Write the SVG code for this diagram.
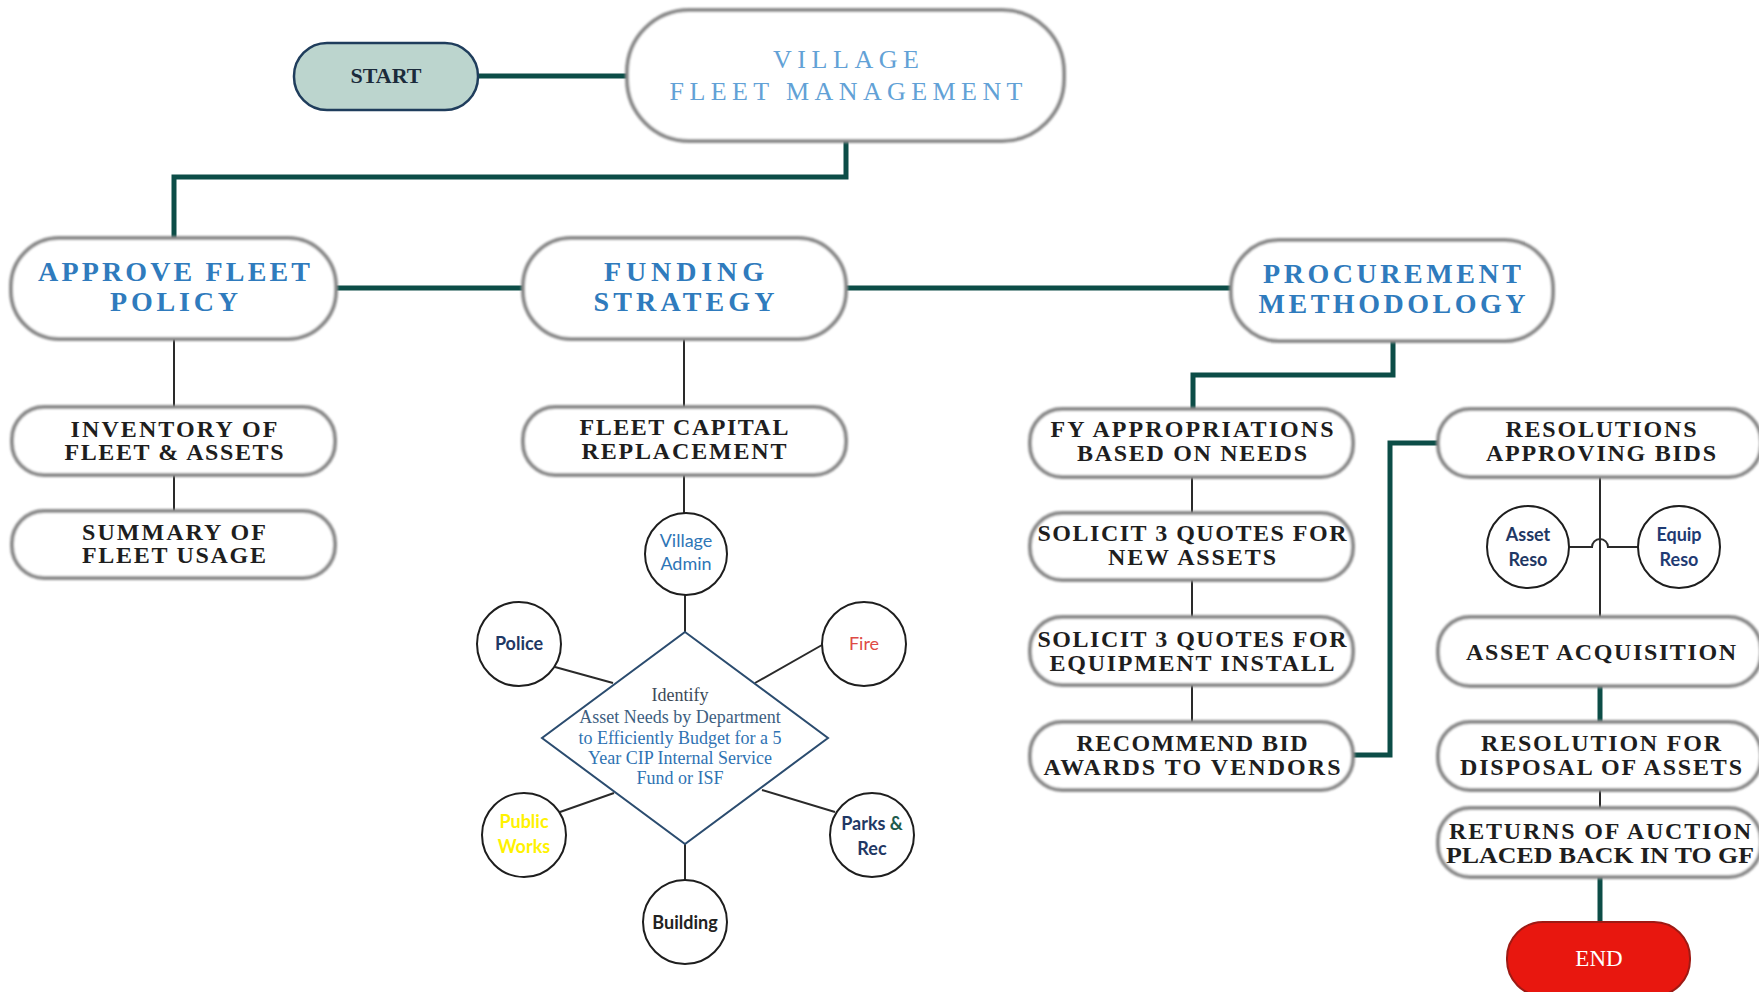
<svg xmlns="http://www.w3.org/2000/svg" width="1759" height="992" viewBox="0 0 1759 992">
<style>
.pill{fill:#fff;stroke:#8a8a8a;stroke-width:4;filter:url(#soft)}
.hd{font-family:"Liberation Serif",serif;font-weight:bold;font-size:28px;fill:#2f7bbd;text-anchor:middle}
.ttl{font-family:"Liberation Serif",serif;font-size:26px;fill:#62a1d6;text-anchor:middle}
.bx{font-family:"Liberation Serif",serif;font-weight:bold;font-size:24px;fill:#1e1e1e;text-anchor:middle}
.thick{fill:none;stroke:#0c4d47;stroke-width:5}
.thin{fill:none;stroke:#2a2a2a;stroke-width:2}
.circ{fill:#fff;stroke:#1e1e1e;stroke-width:2}
.ct{font-family:Lato,"Open Sans",sans-serif;font-size:18px;text-anchor:middle}
.dt{font-family:"Liberation Serif",serif;font-size:18px;text-anchor:middle;fill:#2f73b3}
</style>
<defs>
<filter id="soft" x="-5%" y="-10%" width="110%" height="120%"><feGaussianBlur stdDeviation="1.1"/></filter>
</defs>
<rect width="1759" height="992" fill="#fff"/>
<g id="connectors">
<path class="thick" d="M478,76 H627"/>
<path class="thick" d="M846,141 V177 H174 V238"/>
<path class="thick" d="M336,288 H523"/>
<path class="thick" d="M846,288 H1231"/>
<path class="thick" d="M1393,341 V375 H1193 V409"/>
<path class="thick" d="M1353,755 H1390 V443 H1438"/>
<path class="thick" d="M1600,686 V722"/>
<path class="thick" d="M1600,877 V922"/>
<path class="thin" d="M174,339 V407 M174,475 V511"/>
<path class="thin" d="M684,339 V407 M684,475 V513"/>
<path class="thin" d="M685,595 V632 M685,844 V880"/>
<path class="thin" d="M555,667 L613,683 M822,645 L755,683 M560,812 L614,793 M835,812 L762,790"/>
<path class="thin" d="M1192,477 V513 M1192,580 V617 M1192,685 V722"/>
<path class="thin" d="M1600,477 V617 M1600,790 V808"/>
<path class="thin" d="M1569,547 H1592 A8,8 0 0 1 1608,547 H1638"/>
</g>
<g id="start">
<rect x="294" y="43" width="184" height="67" rx="33" fill="#bcd5ce" stroke="#1f3d5c" stroke-width="2.5"/>
<text x="386" y="83" font-family="Liberation Serif,serif" font-weight="bold" font-size="22" fill="#1b2b3b" text-anchor="middle" textLength="71" lengthAdjust="spacingAndGlyphs">START</text>
</g>
<g id="village">
<rect class="pill" x="627" y="10" width="437" height="131" rx="62"/>
<text class="ttl" x="846" y="68" textLength="146" lengthAdjust="spacing">VILLAGE</text>
<text class="ttl" x="846" y="100" textLength="353" lengthAdjust="spacing">FLEET MANAGEMENT</text>
</g>
<g id="approve">
<rect class="pill" x="11" y="238" width="325" height="101" rx="48"/>
<text class="hd" x="174" y="281" textLength="272" lengthAdjust="spacing">APPROVE FLEET</text>
<text class="hd" x="174" y="311" textLength="128" lengthAdjust="spacing">POLICY</text>
</g>
<g id="funding">
<rect class="pill" x="523" y="238" width="323" height="101" rx="48"/>
<text class="hd" x="684" y="281" textLength="160" lengthAdjust="spacing">FUNDING</text>
<text class="hd" x="684" y="311" textLength="181" lengthAdjust="spacing">STRATEGY</text>
</g>
<g id="procurement">
<rect class="pill" x="1231" y="240" width="322" height="101" rx="48"/>
<text class="hd" x="1392" y="283" textLength="258" lengthAdjust="spacing">PROCUREMENT</text>
<text class="hd" x="1392" y="313" textLength="267" lengthAdjust="spacing">METHODOLOGY</text>
</g>
<g id="inventory">
<rect class="pill" x="12" y="407" width="323" height="68" rx="32"/>
<text class="bx" x="174" y="437" textLength="207" lengthAdjust="spacing">INVENTORY OF</text>
<text class="bx" x="174" y="460" textLength="219" lengthAdjust="spacing">FLEET &amp; ASSETS</text>
</g>
<g id="summary">
<rect class="pill" x="12" y="511" width="323" height="67" rx="32"/>
<text class="bx" x="174" y="540" textLength="184" lengthAdjust="spacing">SUMMARY OF</text>
<text class="bx" x="174" y="563" textLength="184" lengthAdjust="spacing">FLEET USAGE</text>
</g>
<g id="fleet-capital">
<rect class="pill" x="523" y="407" width="323" height="68" rx="32"/>
<text class="bx" x="684" y="435" textLength="209" lengthAdjust="spacing">FLEET CAPITAL</text>
<text class="bx" x="684" y="459" textLength="205" lengthAdjust="spacing">REPLACEMENT</text>
</g>
<g id="identify">
<polygon points="685,632 828,738 685,844 542,738" fill="#fff" stroke="#2b4c6f" stroke-width="2"/>
<text class="dt" x="680" y="701" style="fill:#3c4a58">Identify</text>
<text class="dt" x="680" y="723" style="fill:#3d5e80">Asset Needs by Department</text>
<text class="dt" x="680" y="744">to Efficiently Budget for a 5</text>
<text class="dt" x="680" y="764">Year CIP Internal Service</text>
<text class="dt" x="680" y="784">Fund or ISF</text>
</g>
<g id="village-admin">
<circle class="circ" cx="686" cy="554" r="41"/>
<text class="ct" x="686" y="547" fill="#2e75b6">Village</text>
<text class="ct" x="686" y="570" fill="#2e75b6">Admin</text>
</g>
<g id="police">
<circle class="circ" cx="519" cy="644" r="42"/>
<text class="ct" x="519" y="650" font-weight="bold" fill="#1f3864">Police</text>
</g>
<g id="fire">
<circle class="circ" cx="864" cy="644" r="42"/>
<text class="ct" x="864" y="650" fill="#de4b45">Fire</text>
</g>
<g id="public-works">
<circle class="circ" cx="524" cy="835" r="42"/>
<text class="ct" x="524" y="828" font-weight="bold" fill="#fff200">Public</text>
<text class="ct" x="524" y="853" font-weight="bold" fill="#fff200">Works</text>
</g>
<g id="parks-rec">
<circle class="circ" cx="872" cy="835" r="42"/>
<text class="ct" x="872" y="830" font-weight="bold" fill="#1f3864">Parks <tspan fill="#1e5b4c">&amp;</tspan></text>
<text class="ct" x="872" y="855" font-weight="bold" fill="#1f3864">Rec</text>
</g>
<g id="building">
<circle class="circ" cx="685" cy="922" r="42"/>
<text class="ct" x="685" y="929" font-weight="bold" fill="#222">Building</text>
</g>
<g id="fy-appropriations">
<rect class="pill" x="1030" y="409" width="323" height="68" rx="32"/>
<text class="bx" x="1192" y="437" textLength="283" lengthAdjust="spacing">FY APPROPRIATIONS</text>
<text class="bx" x="1192" y="461" textLength="230" lengthAdjust="spacing">BASED ON NEEDS</text>
</g>
<g id="solicit-assets">
<rect class="pill" x="1030" y="513" width="323" height="67" rx="32"/>
<text class="bx" x="1192" y="541" textLength="309" lengthAdjust="spacing">SOLICIT 3 QUOTES FOR</text>
<text class="bx" x="1192" y="565" textLength="168" lengthAdjust="spacing">NEW ASSETS</text>
</g>
<g id="solicit-equipment">
<rect class="pill" x="1030" y="617" width="323" height="68" rx="32"/>
<text class="bx" x="1192" y="647" textLength="309" lengthAdjust="spacing">SOLICIT 3 QUOTES FOR</text>
<text class="bx" x="1192" y="671" textLength="285" lengthAdjust="spacing">EQUIPMENT INSTALL</text>
</g>
<g id="recommend">
<rect class="pill" x="1030" y="722" width="323" height="68" rx="32"/>
<text class="bx" x="1192" y="751" textLength="231" lengthAdjust="spacing">RECOMMEND BID</text>
<text class="bx" x="1192" y="775" textLength="297" lengthAdjust="spacing">AWARDS TO VENDORS</text>
</g>
<g id="resolutions">
<rect class="pill" x="1438" y="409" width="323" height="68" rx="32"/>
<text class="bx" x="1601" y="437" textLength="191" lengthAdjust="spacing">RESOLUTIONS</text>
<text class="bx" x="1601" y="461" textLength="230" lengthAdjust="spacing">APPROVING BIDS</text>
</g>
<g id="asset-reso">
<circle class="circ" cx="1528" cy="547" r="41"/>
<text class="ct" x="1528" y="541" font-size="17" font-weight="bold" fill="#1f3864">Asset</text>
<text class="ct" x="1528" y="566" font-size="17" font-weight="bold" fill="#1f3864">Reso</text>
</g>
<g id="equip-reso">
<circle class="circ" cx="1679" cy="547" r="41"/>
<text class="ct" x="1679" y="541" font-size="17" font-weight="bold" fill="#1f3b73">Equip</text>
<text class="ct" x="1679" y="566" font-size="17" font-weight="bold" fill="#1f3b73">Reso</text>
</g>
<g id="asset-acquisition">
<rect class="pill" x="1438" y="617" width="323" height="69" rx="32"/>
<text class="bx" x="1601" y="660" textLength="270" lengthAdjust="spacing">ASSET ACQUISITION</text>
</g>
<g id="disposal">
<rect class="pill" x="1438" y="722" width="323" height="68" rx="32"/>
<text class="bx" x="1601" y="751" textLength="240" lengthAdjust="spacing">RESOLUTION FOR</text>
<text class="bx" x="1601" y="775" textLength="282" lengthAdjust="spacing">DISPOSAL OF ASSETS</text>
</g>
<g id="returns">
<rect class="pill" x="1438" y="808" width="323" height="69" rx="32"/>
<text class="bx" x="1600" y="839" textLength="302" lengthAdjust="spacing">RETURNS OF AUCTION</text>
<text class="bx" x="1446" y="863" style="text-anchor:start" textLength="308" lengthAdjust="spacingAndGlyphs">PLACED BACK IN TO GF</text>
</g>
<g id="end">
<rect x="1507" y="922" width="183" height="74" rx="36" fill="#e8170f" stroke="#9e1a14" stroke-width="2"/>
<text x="1599" y="966" font-family="Liberation Serif,serif" font-size="23" fill="#fff" text-anchor="middle">END</text>
</g>
</svg>
